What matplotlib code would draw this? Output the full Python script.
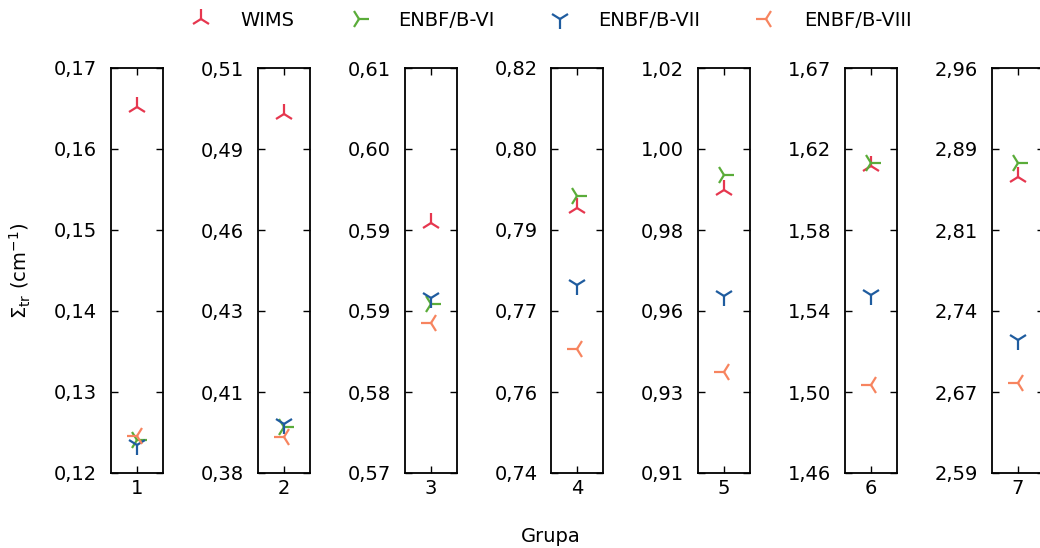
import matplotlib
matplotlib.use("Agg")
import matplotlib.pyplot as plt
from matplotlib.ticker import FixedLocator, FuncFormatter
import numpy as np

groups = [1, 2, 3, 4, 5, 6, 7]
series_names = ["WIMS", "ENBF/B-VI", "ENBF/B-VII", "ENBF/B-VIII"]
wims = [0.1652, 0.4972, 0.5936, 0.7918, 0.9876, 1.6152, 2.8627]
enbf6 = [0.1241, 0.3967, 0.5866, 0.7940, 0.9916, 1.6166, 2.8755]
enbf7 = [0.1235, 0.3977, 0.5871, 0.7770, 0.9595, 1.5483, 2.7135]
enbf8 = [0.1246, 0.3937, 0.5850, 0.7647, 0.9393, 1.5016, 2.6739]
ylims = [(0.12, 0.17), (0.382, 0.512), (0.572, 0.607), (0.741, 0.8185),
         (0.9125, 1.02), (1.456, 1.666), (2.592, 2.962)]

colors = ["#e6374f", "#5aac39", "#1f5c9f", "#f7845f"]
markers = ["2", "4", "1", "3"]
data = [wims, enbf6, enbf7, enbf8]

plt.rcParams['font.family'] = ['DejaVu Sans']
W, H = 1040, 548
fig = plt.figure(figsize=(W / 100, H / 100), dpi=100)

left0 = 111 / W
step = 146.8 / W
aw = 52 / W
bottom = (H - 473) / H
ah = 405 / H

fmt = FuncFormatter(lambda v, p: f"{v:.2f}".replace(".", ","))
handles = []
for i, g in enumerate(groups):
    ax = fig.add_axes([left0 + i * step, bottom, aw, ah])
    for s, (vals, c, m) in enumerate(zip(data, colors, markers)):
        h, = ax.plot([g], [vals[i]], linestyle="none", marker=m, color=c,
                     markersize=14, markeredgewidth=1.6, label=series_names[s])
        if i == 0:
            handles.append(h)
    ax.set_xlim(g - 0.5, g + 0.5)
    lo, hi = ylims[i]
    ax.set_ylim(lo, hi)
    ax.yaxis.set_major_locator(FixedLocator(np.linspace(lo, hi, 6)))
    ax.yaxis.set_major_formatter(fmt)
    ax.set_xticks([g])
    ax.tick_params(axis="both", direction="in", length=5, width=1.0,
                   labelsize=14, top=True, right=True)
    ax.tick_params(axis="y", pad=10)
    ax.tick_params(axis="x", pad=4)
    for sp in ax.spines.values():
        sp.set_linewidth(1.3)

fig.text(20 / W, bottom + ah / 2, r"$\Sigma_{\mathrm{tr}}$ (cm$^{-1}$)",
         rotation=90, ha="center", va="center", fontsize=14)
fig.text(551 / W, 1 - 536 / H, "Grupa", ha="center", va="center", fontsize=14)

fig.legend(handles=handles, labels=series_names, loc="center",
           bbox_to_anchor=(547 / W, 1 - 20 / H), ncol=4, frameon=False,
           fontsize=14, handletextpad=1.0, columnspacing=2.35, numpoints=1)

fig.savefig("out.png", dpi=100)
